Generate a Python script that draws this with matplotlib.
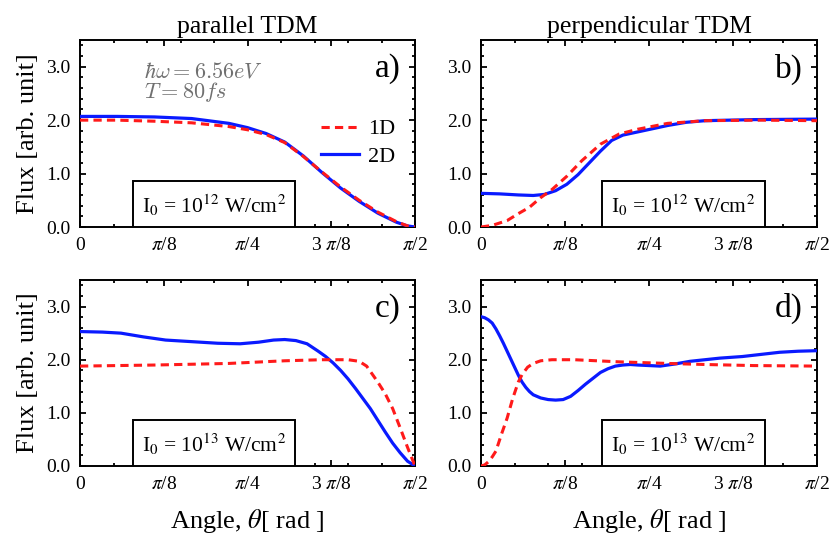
import numpy as np
import matplotlib
matplotlib.use('Agg')
import matplotlib.pyplot as plt
from matplotlib.ticker import MultipleLocator, FixedLocator
from matplotlib.patches import Rectangle

plt.rcParams['font.family'] = ['Liberation Serif', 'DejaVu Serif']
plt.rcParams['mathtext.fontset'] = 'stix'

# angles in degrees (0..90 = 0..pi/2), flux values
a_1d_deg = [0, 10, 20, 30, 40, 45, 50, 55, 60, 65, 70, 75, 80, 85, 88, 90]
a_1d_val = [2.00, 2.00, 1.98, 1.95, 1.88, 1.82, 1.73, 1.58, 1.32, 1.03, 0.75, 0.50, 0.28, 0.10, 0.02, 0.00]
a_2d_deg = [0, 10, 20, 30, 40, 45, 50, 55, 60, 65, 70, 75, 80, 85, 88, 90]
a_2d_val = [2.07, 2.07, 2.06, 2.03, 1.94, 1.86, 1.75, 1.59, 1.33, 1.02, 0.73, 0.48, 0.26, 0.09, 0.02, 0.00]

b_1d_deg = [0, 3, 7, 10, 13, 16, 19, 23, 27, 32, 37, 42, 50, 60, 75, 90]
b_1d_val = [0.00, 0.03, 0.12, 0.25, 0.37, 0.55, 0.70, 0.95, 1.24, 1.55, 1.74, 1.83, 1.94, 1.99, 2.00, 1.99]
b_2d_deg = [0, 5, 10, 14, 17, 20, 23, 26, 29, 32, 35, 38, 42, 46, 50, 55, 60, 73, 90]
b_2d_val = [0.63, 0.62, 0.60, 0.59, 0.61, 0.68, 0.80, 0.98, 1.20, 1.42, 1.62, 1.72, 1.78, 1.84, 1.90, 1.96, 1.99, 2.01, 2.02]

c_1d_deg = [0, 20, 40, 55, 65, 72, 75, 77, 80, 82, 84, 86, 88, 90]
c_1d_val = [1.88, 1.90, 1.93, 1.98, 2.00, 2.00, 1.97, 1.88, 1.58, 1.36, 1.08, 0.72, 0.35, 0.00]
c_2d_deg = [0, 6, 11, 17, 23, 30, 37, 43, 48, 52, 55, 58, 61, 64, 66, 68, 70, 72, 74, 76, 78, 80, 82, 84, 86, 88, 90]
c_2d_val = [2.53, 2.52, 2.50, 2.43, 2.37, 2.34, 2.31, 2.30, 2.33, 2.37, 2.38, 2.36, 2.30, 2.16, 2.06, 1.94, 1.80,
            1.64, 1.46, 1.27, 1.08, 0.86, 0.64, 0.43, 0.25, 0.09, 0.00]

d_1d_deg = [0, 1, 2, 3, 4, 5.5, 7, 8.5, 10, 11, 12.5, 14, 16, 19, 25, 37, 50, 60, 73, 90]
d_1d_val = [0.00, 0.02, 0.08, 0.17, 0.28, 0.60, 0.90, 1.27, 1.58, 1.72, 1.86, 1.93, 1.98, 2.00, 2.00, 1.96, 1.93,
            1.91, 1.89, 1.88]
d_2d_deg = [0, 1, 2, 3, 4, 5, 6, 7, 8, 9, 10, 11, 12, 13, 14, 16, 18, 20, 22, 24, 26, 28, 30, 32, 34, 36, 38, 40,
            42, 45, 48, 52, 56, 60, 64, 70, 75, 80, 85, 90]
d_2d_val = [2.81, 2.79, 2.75, 2.69, 2.58, 2.45, 2.31, 2.16, 2.01, 1.86, 1.71, 1.58, 1.48, 1.40, 1.34, 1.28, 1.25,
            1.24, 1.25, 1.31, 1.42, 1.54, 1.65, 1.76, 1.83, 1.88, 1.90, 1.91, 1.90, 1.89, 1.88, 1.92, 1.97, 2.00,
            2.03, 2.06, 2.10, 2.14, 2.16, 2.17]

xtick_labels = ['0', r'$\pi$/8', r'$\pi$/4', r'3 $\pi$/8', r'$\pi$/2']
panel_labels = ['a)', 'b)', 'c)', 'd)']
intensity = [r'I$_0$ = 10$^{12}$ W/cm$^2$', r'I$_0$ = 10$^{12}$ W/cm$^2$',
             r'I$_0$ = 10$^{13}$ W/cm$^2$', r'I$_0$ = 10$^{13}$ W/cm$^2$']
data = [(a_1d_deg, a_1d_val, a_2d_deg, a_2d_val),
        (b_1d_deg, b_1d_val, b_2d_deg, b_2d_val),
        (c_1d_deg, c_1d_val, c_2d_deg, c_2d_val),
        (d_1d_deg, d_1d_val, d_2d_deg, d_2d_val)]

fig = plt.figure(figsize=(8.3, 5.35), dpi=100)
pos = [[0.0964, 0.5757, 0.4036, 0.3495],
       [0.5795, 0.5757, 0.4048, 0.3495],
       [0.0964, 0.1290, 0.4036, 0.3476],
       [0.5795, 0.1290, 0.4048, 0.3476]]
box_x = [0.158, 0.36, 0.158, 0.36]

axes = []
for i in range(4):
    ax = fig.add_axes(pos[i])
    x1, y1, x2, y2 = data[i]
    ax.plot(np.deg2rad(x2), y2, color='#0a1aff', lw=2.3, label='2D', zorder=3)
    ax.plot(np.deg2rad(x1), y1, color='#ff1a1a', lw=2.2, dashes=(2.7, 1.7), label='1D', zorder=4)
    ax.set_xlim(0, np.pi/2)
    ax.set_ylim(0, 3.5)
    ax.xaxis.set_major_locator(FixedLocator([0, np.pi/8, np.pi/4, 3*np.pi/8, np.pi/2]))
    ax.xaxis.set_minor_locator(MultipleLocator(np.pi/20))
    ax.set_xticklabels(xtick_labels)
    ax.yaxis.set_major_locator(FixedLocator([0, 1, 2, 3]))
    ax.yaxis.set_minor_locator(MultipleLocator(0.2))
    ax.set_yticklabels(['0.0', '1.0', '2.0', '3.0'])
    ax.tick_params(which='both', direction='in', top=True, right=True, labelsize=14, width=1.3)
    ax.tick_params(which='major', length=4, pad=7)
    ax.tick_params(which='minor', length=2)
    for s in ax.spines.values():
        s.set_linewidth(1.4)
    ax.text(0.958, 0.845, panel_labels[i], transform=ax.transAxes, ha='right', va='center', fontsize=24)
    h = 0.246
    ax.add_patch(Rectangle((box_x[i], 0), 0.484, h, transform=ax.transAxes, fill=True,
                           facecolor='white', edgecolor='black', lw=1.4, zorder=5))
    ax.text(box_x[i] + 0.242, 0.115, intensity[i], transform=ax.transAxes, ha='center', va='center',
            fontsize=15.5, zorder=6)
    axes.append(ax)

axes[0].set_title('parallel TDM', fontsize=18.5, pad=5)
axes[1].set_title('perpendicular TDM', fontsize=18.5, pad=5)
axes[0].set_ylabel('Flux [arb. unit]', fontsize=19, labelpad=5)
axes[2].set_ylabel('Flux [arb. unit]', fontsize=19, labelpad=5)
axes[2].set_xlabel(r'Angle, $\theta$[ rad ]', fontsize=19, labelpad=10)
axes[3].set_xlabel(r'Angle, $\theta$[ rad ]', fontsize=19, labelpad=10)

axes[0].text(0.19, 0.80, r'$\hbar\omega = 6.56eV$', transform=axes[0].transAxes, color='#707070',
             fontsize=16, va='baseline', math_fontfamily='cm')
axes[0].text(0.19, 0.69, r'$T = 80fs$', transform=axes[0].transAxes, color='#707070',
             fontsize=16, va='baseline', math_fontfamily='cm')

hd, lb = axes[0].get_legend_handles_labels()
axes[0].legend(hd[::-1], lb[::-1], loc='upper right', bbox_to_anchor=(1.0, 0.685), frameon=False,
               fontsize=16, handlelength=1.7, handletextpad=0.4, labelspacing=0.3)

fig.savefig('out.png', dpi=100)
